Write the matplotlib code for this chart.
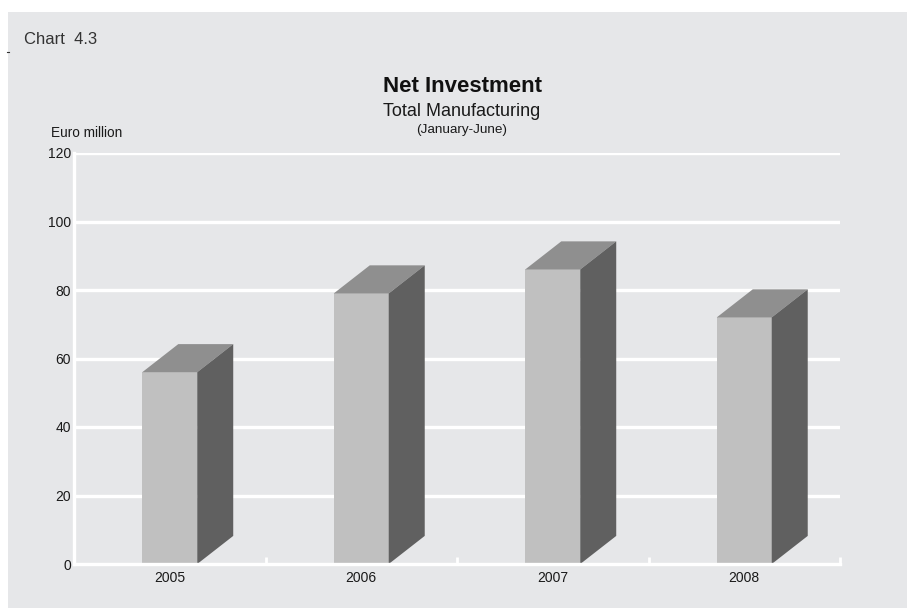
import numpy as np
import matplotlib.pyplot as plt
from matplotlib.patches import Polygon, Rectangle

plt.rcParams['font.family'] = ['Liberation Sans', 'DejaVu Sans']

years = ['2005', '2006', '2007', '2008']
net_investment = [56, 79, 86, 72]
y_ticks = [0, 20, 40, 60, 80, 100, 120]

W, H = 907, 608
bg = '#e6e7e9'
front_col = '#c0c0c0'
top_col = '#8f8f8f'
side_col = '#606060'

fig = plt.figure(figsize=(W / 100, H / 100), dpi=100, facecolor='white')
fig.patches.append(Rectangle((8 / W, 0), 1 - 8 / W, 1 - 12 / H, transform=fig.transFigure,
                             facecolor=bg, edgecolor='none', zorder=-5))

def fx(px):
    return px / W

def fy(py):
    return 1 - py / H

ax = fig.add_axes([fx(74), fy(564), (840 - 74) / W, (564 - 153) / H])
ax.set_zorder(2)
ax.patch.set_alpha(0)

x = np.arange(len(years))
bw = 0.287
dx = 0.188   # depth offset, categories
dy = 8.2     # depth offset, value units

for yv in y_ticks[1:]:
    ax.axhline(yv, color='white', lw=2.4, zorder=1)

ax.bar(x, net_investment, width=bw, color=front_col, zorder=3)
for xi, v in zip(x, net_investment):
    l, r = xi - bw / 2, xi + bw / 2
    top = Polygon([(l, v), (r, v), (r + dx, v + dy), (l + dx, v + dy)],
                  closed=True, facecolor=top_col, edgecolor='none', zorder=3, clip_on=False)
    side = Polygon([(r, 0), (r + dx, dy), (r + dx, v + dy), (r, v)],
                   closed=True, facecolor=side_col, edgecolor='none', zorder=3, clip_on=False)
    ax.add_patch(top)
    ax.add_patch(side)

ax.set_xlim(-0.5, 3.5)
ax.set_ylim(0, 120)
for s in ['top', 'right']:
    ax.spines[s].set_visible(False)
for s in ['left', 'bottom']:
    ax.spines[s].set_color('white')
    ax.spines[s].set_linewidth(2.4)
    ax.spines[s].set_zorder(4)

ax.set_xticks(x)
ax.set_xticklabels(years, fontsize=10, color='#1a1a1a')
ax.set_xticks(np.arange(0.5, 4, 1), minor=True)
ax.tick_params(axis='x', which='major', length=0, pad=5)
ax.tick_params(axis='x', which='minor', direction='in', length=5, width=2, color='white')
ax.set_yticks(y_ticks)
ax.set_yticklabels([str(t) for t in y_ticks], fontsize=10, color='#1a1a1a')
ax.tick_params(axis='y', length=0, pad=2)

fig.text(fx(24), fy(39), 'Chart  4.3', fontsize=12, color='#333333', va='center', ha='left')
fig.text(fx(462), fy(87), 'Net Investment', fontsize=16, fontweight='bold', color='#111111',
         va='center', ha='center')
fig.text(fx(462), fy(112), 'Total Manufacturing', fontsize=13, color='#1a1a1a', va='center', ha='center')
fig.text(fx(462), fy(130), '(January-June)', fontsize=9.7, color='#1a1a1a', va='center', ha='center')
fig.text(fx(51), fy(133), 'Euro million', fontsize=9.8, color='#1a1a1a', va='center', ha='left')
fig.add_artist(plt.Line2D([fx(7), fx(9)], [fy(52), fy(52)], color='#333333', lw=0.8))

fig.savefig('out.png', dpi=100, facecolor='white')
